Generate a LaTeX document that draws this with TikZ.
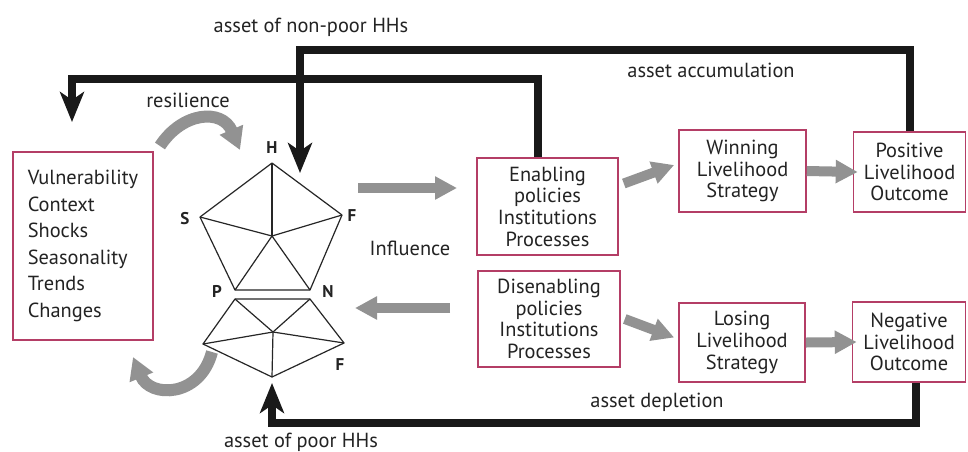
\documentclass[tikz,border=0pt]{standalone}
\usepackage{fontspec}
\setmainfont{PT Sans}
\usetikzlibrary{arrows.meta, positioning, calc}
\definecolor{boxred}{RGB}{180,62,102}
\definecolor{arrowgray}{RGB}{146,146,146}
\definecolor{textgray}{RGB}{35,35,35}

\begin{document}
\begin{tikzpicture}[x=0.5pt, y=-0.5pt,
  box node/.style={draw=boxred, line width=0.8pt, align=center, inner sep=0pt, text=textgray, font=\fontsize{10.2}{10.8}\selectfont},
  label text/.style={text=textgray, font=\fontsize{10.2}{12}\selectfont, inner sep=0pt},
  corner label/.style={text=textgray, font=\bfseries\fontsize{8.5}{9}\selectfont, inner sep=0pt},
  pent line/.style={draw=black!85, line width=0.6pt, line join=round},
  asset line/.style={draw=black!90, line width=4pt, -{Stealth[length=15pt, width=12pt, inset=4pt]}},
  flow arrow/.style={draw=arrowgray, line width=5pt, -{Triangle[length=11pt, width=11pt]}}]

  \fill[white] (0,0) rectangle (968,449);

  % Nodes
  \node[box node, align=left, minimum width=70pt, minimum height=94pt, font=\fontsize{10.2}{13.3}\selectfont] (vuln) at (83,246)
    {Vulnerability\\Context\\Shocks\\Seasonality\\Trends\\Changes};
  \node[box node, minimum width=70.5pt, minimum height=48.5pt] (enab) at (547.5,206.5) {Enabling\\policies\\Institutions\\Processes};
  \node[box node, minimum width=71pt, minimum height=48pt] (disen) at (549,319) {Disenabling\\policies\\Institutions\\Processes};
  \node[box node, minimum width=63.5pt, minimum height=41pt] (win) at (742.5,171) {Winning\\Livelihood\\Strategy};
  \node[box node, minimum width=56pt, minimum height=40pt] (pos) at (909.5,172) {Positive\\Livelihood\\Outcome};
  \node[box node, minimum width=63pt, minimum height=39.5pt] (lose) at (742,342.5) {Losing\\Livelihood\\Strategy};
  \node[box node, minimum width=56.5pt, minimum height=40pt] (neg) at (909,342) {Negative\\Livelihood\\Outcome};

  % Asset pentagons
  \coordinate (H) at (272,163);
  \coordinate (F) at (342,215);
  \coordinate (N) at (310,290);
  \coordinate (P) at (235,290);
  \coordinate (S) at (200,217);
  \coordinate (C) at (272,236);
  \coordinate (P2) at (235,299);
  \coordinate (N2) at (310,299);
  \coordinate (R2) at (344,343);
  \coordinate (B2) at (272,377);
  \coordinate (L2) at (203,344);
  \coordinate (C2) at (273,332);

  \draw[pent line] (H) -- (F) -- (N) -- (P) -- (S) -- cycle;
  \foreach \v in {H,F,N,P,S} \draw[pent line] (C) -- (\v);
  \draw[pent line] (P2) -- (N2) -- (R2) -- (B2) -- (L2) -- cycle;
  \foreach \v in {P2,N2,R2,B2,L2} \draw[pent line] (C2) -- (\v);

  \node[corner label] (lH) at (272,148) {H};
  \node[corner label] (lS) at (185,219) {S};
  \node[corner label] (lF) at (352,216) {F};
  \node[corner label] (lP) at (217,291) {P};
  \node[corner label] (lN) at (328,292) {N};
  \node[corner label] (lF2) at (340,365) {F};

  % Texts
  \node[label text] (nonpoor) at (311,27) {asset of non-poor HHs};
  \node[label text] (resil) at (188,100) {resilience};
  \node[label text] (accum) at (711,70) {asset accumulation};
  \node[label text] (infl) at (410,248) {Influence};
  \node[label text] (deplet) at (657,402) {asset depletion};
  \node[label text] (poor) at (301,442) {asset of poor HHs};

  % Free ends
  \coordinate (Htip) at (300,173);
  \coordinate (Vtip) at (72,122);
  \coordinate (Ptip) at (272,383);
  \coordinate (inA) at (358,188);
  \coordinate (inB) at (457,188);
  \coordinate (outA) at (450,308);
  \coordinate (outB) at (355,308);

  % Edges (connections)
  \draw[asset line] (pos.north) |- (300,50) -- (Htip);
  \draw[asset line] ([xshift=-5pt]enab.north) |- (72,79) -- (Vtip);
  \draw[asset line] ([xshift=3.5pt]neg.south) |- (272,423) -- (Ptip);

  \draw[flow arrow] (inA) -- (inB);
  \draw[flow arrow] (outA) -- (outB);
  \draw[flow arrow] ([shift={(2.5pt,11.5pt)}]enab.east) -- ([shift={(-2pt,3pt)}]win.west);
  \draw[flow arrow] ([xshift=2pt]disen.east) -- ([shift={(-2pt,2.5pt)}]lose.west);
  \draw[flow arrow] (win.east) -- ([xshift=2.5pt]pos.west);
  \draw[flow arrow] (lose.east) -- ([xshift=2.5pt]neg.west);

  \draw[flow arrow, line width=6pt, -{Triangle[length=11pt, width=12pt]}] (160,146) .. controls (182,112) and (222,108) .. (240,150);
  \draw[flow arrow, line width=6pt, -{Triangle[length=11pt, width=12pt]}] (212,352) .. controls (200,398) and (150,398) .. (133,357);
\end{tikzpicture}
\end{document}
